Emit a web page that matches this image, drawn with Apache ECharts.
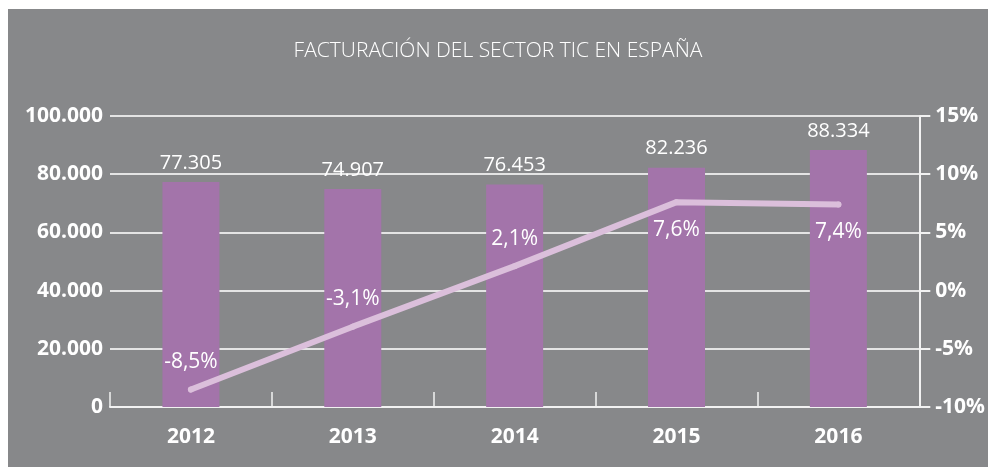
<!DOCTYPE html>
<html>
<head>
<meta charset="utf-8">
<script src="https://cdn.jsdelivr.net/npm/echarts@6/dist/echarts.min.js"></script>
<style>
html, body { margin: 0; padding: 0; background: #ffffff; }
#chart {
  position: absolute;
  left: 8px;
  top: 9px;
  width: 980px;
  height: 458px;
  background: #87888a;
}
</style>
</head>
<body>
<div id="chart"></div>
<script>
// datos del gráfico
const years = ['2012', '2013', '2014', '2015', '2016'];
const facturacion = [77305, 74907, 76453, 82236, 88334];   // millones de euros
const variacion = [-8.5, -3.1, 2.1, 7.6, 7.4];              // % anual

const titulo = 'FACTURACIÓN DEL SECTOR TIC EN ESPAÑA';
const fuente = '"Open Sans", "DejaVu Sans", sans-serif';

function miles(v) {
  return String(v).replace(/\B(?=(\d{3})+(?!\d))/g, '.');
}
function pct(v) {
  return String(v).replace('.', ',') + '%';
}

const myChart = echarts.init(document.getElementById('chart'));

const option = {
  animation: false,
  textStyle: { fontFamily: fuente },
  title: {
    text: titulo,
    left: 'center',
    top: 27,
    textStyle: {
      color: '#ffffff',
      fontSize: 21,
      fontWeight: 300,
      fontFamily: fuente
    }
  },
  grid: {
    left: 102,
    right: 67,
    top: 107,
    bottom: 60
  },
  xAxis: {
    type: 'category',
    data: years,
    axisLine: { lineStyle: { color: '#f2f2f2', width: 2 } },
    axisTick: {
      show: true,
      inside: true,
      length: 15,
      lineStyle: { color: '#f2f2f2', width: 1.5 }
    },
    axisLabel: {
      color: '#ffffff',
      fontSize: 21,
      fontWeight: 'bold',
      margin: 20
    }
  },
  yAxis: [{
    type: 'value',
    min: 0,
    max: 100000,
    interval: 20000,
    axisLine: { show: false },
    axisTick: { show: false },
    axisLabel: {
      color: '#ffffff',
      fontSize: 21,
      fontWeight: 'bold',
      margin: 7,
      formatter: function (v) { return miles(v); }
    },
    splitLine: { lineStyle: { color: '#e4e4e4', width: 2 } }
  }, {
    type: 'value',
    min: -10,
    max: 15,
    interval: 5,
    position: 'right',
    axisLine: { show: true, lineStyle: { color: '#f2f2f2', width: 2 } },
    axisTick: { show: true, length: 11, lineStyle: { color: '#f2f2f2', width: 2 } },
    axisLabel: {
      color: '#ffffff',
      fontSize: 21,
      fontWeight: 'bold',
      margin: 16,
      formatter: function (v) { return v + '%'; }
    },
    splitLine: { show: false }
  }],
  series: [{
    name: 'Facturación',
    type: 'bar',
    data: facturacion,
    barWidth: 57,
    itemStyle: { color: '#a374aa' },
    label: {
      show: true,
      position: 'top',
      distance: 9,
      color: '#ffffff',
      fontSize: 20,
      fontWeight: 'normal',
      formatter: function (p) { return miles(p.value); }
    }
  }, {
    name: 'Variación',
    type: 'line',
    yAxisIndex: 1,
    data: variacion.map(function (v) {
      return { value: v, label: { show: true, position: v > 5 ? 'bottom' : 'top' } };
    }),
    symbol: 'circle',
    symbolSize: 6,
    showSymbol: true,
    itemStyle: { color: '#dbbfdb' },
    lineStyle: { color: '#dbbfdb', width: 6, cap: 'round' },
    z: 3,
    label: {
      show: true,
      distance: 14,
      color: '#ffffff',
      fontSize: 21,
      fontWeight: 'normal',
      formatter: function (p) { return pct(p.value); }
    }
  }]
};

myChart.setOption(option);
</script>
</body>
</html>
